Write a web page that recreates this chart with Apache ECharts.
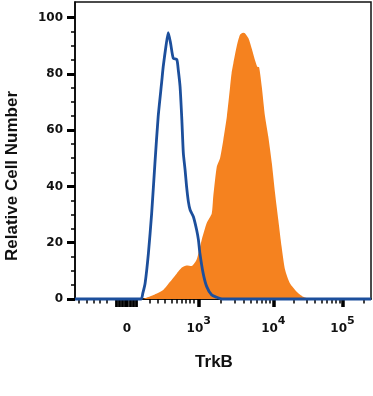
<!DOCTYPE html>
<html>
<head>
<meta charset="utf-8">
<script src="https://cdn.jsdelivr.net/npm/echarts@6/dist/echarts.min.js"></script>
<style>
html,body{margin:0;padding:0;background:#fff;}
#c{width:373px;height:396px;}
</style>
</head>
<body>
<div id="c"></div>
<script>
// x values are display channels (0-1000) of the biexponential scale
// Isotype control (blue outline)
const isoX = [0, 223, 229, 237, 248, 259, 270, 281, 293, 298, 307, 315, 323, 332, 344, 349, 355, 361, 366, 372, 377, 383, 389, 400, 411, 417, 422, 433, 445, 462, 479, 497, 1000];
const isoY = [0, 0, 2, 5.7, 16.2, 30.4, 48.2, 64.8, 77.2, 82.5, 89.6, 94.6, 90.8, 85.5, 85.1, 81.3, 75.4, 63.6, 51.8, 45.8, 39.9, 34.6, 31.6, 29.2, 24.5, 21, 16.2, 9.1, 4.4, 1.4, 0.6, 0, 0];
// TrkB stained (orange filled)
const trkX = [230, 265, 298, 321, 344, 361, 377, 394, 411, 428, 445, 462, 467, 479, 490, 501, 513, 524, 529, 535, 546, 557, 568, 574, 586, 597, 608, 616, 622, 631, 642, 653, 665, 676, 687, 698, 710, 726, 749, 771, 794];
const trkY = [0, 1.4, 3.2, 6.1, 9.1, 11.2, 11.9, 11.7, 14, 21, 27, 30.4, 36.3, 47, 50, 56.5, 64.8, 75.4, 80.2, 83.7, 89.6, 93.8, 94.6, 94.4, 92.6, 89, 84.9, 82.5, 82.3, 75.4, 64.8, 57.7, 48.2, 37.5, 28, 18.6, 10.3, 5.6, 2.6, 0.8, 0];

// axis ticks
const xMajorPos = [175.7, 418, 670, 903.7];
const xMajorBase = ['0', '10', '10', '10'];
const xMajorExp = ['', '3', '4', '5'];
const xClusterPos = [138.5, 148.6, 158.8, 168.9, 185.8, 195.9, 206.1];
const xMinorLowPos = [11.1, 39.5, 61.8, 84.5, 107.1, 253.4, 280.4, 304.1, 326.7, 343.6, 360.5, 375, 388.5, 402];
const decadeMultipliers = [2, 3, 4, 5, 6, 7, 8, 9];
const yMajor = [0, 20, 40, 60, 80, 100];
const yMinor = [5, 10, 15, 25, 30, 35, 45, 50, 55, 65, 70, 75, 85, 90, 95];

// log-decade minor ticks between the 10^3, 10^4, 10^5 major positions
const xMinorLog = [];
const decadeWidth = xMajorPos[3] - xMajorPos[2];
for (let d = 1; d <= 3; d++) {
  const start = xMajorPos[d];
  const width = d < 3 ? xMajorPos[d + 1] - xMajorPos[d] : decadeWidth;
  decadeMultipliers.forEach(m => {
    const p = start + Math.log10(m) * width;
    if (p <= 1000) xMinorLog.push(p);
  });
}
const xMinorPos = xMinorLowPos.concat(xMinorLog);

const pair = (xs, ys) => xs.map((x, i) => [x, ys[i]]);

const chart = echarts.init(document.getElementById('c'), null, {renderer: 'canvas'});
const xBase = {type: 'value', min: 0, max: 1000, gridIndex: 0, position: 'bottom',
  splitLine: {show: false}, axisLine: {show: false, onZero: false}, axisLabel: {show: false}};
const yBase = {type: 'value', min: 0, max: 105.5, gridIndex: 0, position: 'left',
  splitLine: {show: false}, axisLine: {show: false}, axisLabel: {show: false}};

chart.setOption({
  animation: false,
  grid: {left: 75, right: 2, top: 2, bottom: 97, show: true, borderColor: '#111', borderWidth: 1.5, backgroundColor: 'transparent'},
  xAxis: [
    Object.assign({}, xBase, {
      axisLine: {show: true, onZero: false, lineStyle: {color: '#000', width: 1.5}},
      axisTick: {show: true, customValues: xMajorPos, length: 8, lineStyle: {color: '#000', width: 3.5}},
      axisLabel: {show: true, customValues: xMajorPos, margin: 17,
        formatter: v => {
          const i = xMajorPos.findIndex(p => Math.abs(p - v) < 0.5);
          if (i < 0) return '';
          return '{b|' + xMajorBase[i] + '}' + (xMajorExp[i] ? '{s|' + xMajorExp[i] + '}' : '');
        },
        rich: {
          b: {fontFamily: 'DejaVu Sans', fontWeight: 'bold', fontSize: 12, color: '#111', lineHeight: 26},
          s: {fontFamily: 'DejaVu Sans', fontWeight: 'bold', fontSize: 11, color: '#111', lineHeight: 4, verticalAlign: 'top'}
        }
      }
    }),
    Object.assign({}, xBase, {axisTick: {show: true, customValues: xClusterPos, length: 8, lineStyle: {color: '#000', width: 2.8}}}),
    Object.assign({}, xBase, {axisTick: {show: true, customValues: xMinorPos, length: 4.5, lineStyle: {color: '#000', width: 1.5}}})
  ],
  yAxis: [
    Object.assign({}, yBase, {
      axisLine: {show: true, lineStyle: {color: '#000', width: 1.5}},
      axisTick: {show: true, customValues: yMajor, length: 8, lineStyle: {color: '#000', width: 3}},
      axisLabel: {show: true, customValues: yMajor, margin: 12, color: '#111',
        fontFamily: 'DejaVu Sans', fontWeight: 'bold', fontSize: 12}
    }),
    Object.assign({}, yBase, {axisTick: {show: true, customValues: yMinor, length: 4, lineStyle: {color: '#000', width: 1.5}}})
  ],
  graphic: [
    {type: 'text', x: 12, y: 176, rotation: Math.PI / 2,
      style: {text: 'Relative Cell Number', fontFamily: 'Liberation Sans', fontWeight: 'bold', fontSize: 17,
        fill: '#111', align: 'center', verticalAlign: 'middle'}},
    {type: 'text', x: 214, y: 362,
      style: {text: 'TrkB', fontFamily: 'Liberation Sans', fontWeight: 'bold', fontSize: 17,
        fill: '#111', align: 'center', verticalAlign: 'middle'}}
  ],
  series: [
    {name: 'TrkB', type: 'line', xAxisIndex: 0, yAxisIndex: 0, data: pair(trkX, trkY),
      showSymbol: false, smooth: 0.2, lineStyle: {width: 0},
      areaStyle: {color: '#f5821f', opacity: 1}, z: 2},
    {name: 'Isotype', type: 'line', xAxisIndex: 0, yAxisIndex: 0, data: pair(isoX, isoY),
      showSymbol: false, smooth: 0.2, clip: false,
      lineStyle: {width: 2.8, color: '#1c4f9c'}, z: 3}
  ]
});
</script>
</body>
</html>
